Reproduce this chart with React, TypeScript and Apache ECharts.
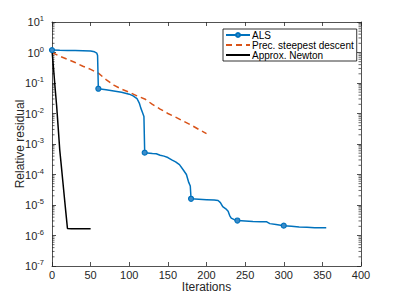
import React, { useEffect, useRef } from "react";
import * as echarts from "echarts";

const alsX = [0, 10, 20, 30, 40, 50, 55, 58, 59, 60, 70, 80, 90, 100, 105, 110, 113, 115, 117, 119, 120, 130, 135, 140, 145, 150, 155, 160, 165, 170, 174, 177, 179, 180, 190, 200, 210, 215, 218, 221, 225, 228, 230, 232, 236, 240, 250, 260, 270, 278, 282, 290, 300, 310, 320, 330, 340, 355];
const alsY = [1.2, 1.18, 1.17, 1.16, 1.15, 1.12, 1.05, 0.95, 0.8, 0.065, 0.06, 0.055, 0.05, 0.043, 0.038, 0.031, 0.022, 0.015, 0.011, 0.008, 5.2e-4, 4.9e-4, 4.8e-4, 4.3e-4, 4.0e-4, 3.6e-4, 3.0e-4, 2.6e-4, 2.1e-4, 1.4e-4, 1.0e-4, 5.5e-5, 4.2e-5, 1.6e-5, 1.55e-5, 1.5e-5, 1.45e-5, 1.4e-5, 1.2e-5, 8.9e-6, 7.5e-6, 6.2e-6, 4.5e-6, 3.7e-6, 3.3e-6, 3.1e-6, 3.0e-6, 2.9e-6, 2.85e-6, 2.8e-6, 2.45e-6, 2.3e-6, 2.1e-6, 2.0e-6, 1.9e-6, 1.85e-6, 1.8e-6, 1.8e-6];
const alsMarkers = [0, 60, 120, 180, 240, 300];

const psdX = [0, 10, 20, 30, 40, 50, 60, 70, 80, 90, 100, 110, 120, 130, 140, 150, 160, 170, 180, 190, 200];
const psdY = [1.0, 0.76, 0.6, 0.47, 0.355, 0.28, 0.21, 0.13, 0.085, 0.063, 0.05, 0.038, 0.03, 0.02, 0.014, 0.01, 0.0076, 0.0056, 0.0042, 0.003, 0.0022];

const newtonX = [0, 2, 4, 6, 8, 10, 12, 14, 16, 18, 20, 25, 30, 40, 50];
const newtonY = [1.2, 0.3, 0.07, 0.018, 3.5e-3, 6.5e-4, 2e-4, 6e-5, 1.8e-5, 5.5e-6, 1.7e-6, 1.65e-6, 1.65e-6, 1.65e-6, 1.65e-6];

const seriesNames = ["ALS", "Prec. steepest descent", "Approx. Newton"];
const yMin = 1e-7;
const yMax = 10;
const xMin = 0;
const xMax = 400;
const xInterval = 50;

const FONT = "'Liberation Sans', Arial, Helvetica, sans-serif";
const AX = "#262626";

function minorTickValues(): number[] {
  const out: number[] = [];
  for (let k = -7; k <= 0; k++) {
    for (let m = 2; m <= 9; m++) out.push(m * Math.pow(10, k));
  }
  return out;
}

export default function App() {
  const ref = useRef<HTMLDivElement>(null);
  useEffect(() => {
    if (!ref.current) return;
    const chart = echarts.init(ref.current, undefined, { renderer: "svg" });
    const alsData = alsX.map((x, i) => ({
      value: [x, alsY[i]],
      symbol: alsMarkers.includes(x) ? "circle" : "none",
    }));
    const yLabel = (v: number) => {
      const e = Math.round(Math.log10(v));
      return "10{s|" + e + "}";
    };
    const tickStyle = { show: true, inside: true, length: 4, lineStyle: { color: AX, width: 0.8 } };
    const axisLine = { show: true, onZero: false, lineStyle: { color: AX, width: 0.8 } };
    chart.setOption({
      animation: false,
      textStyle: { fontFamily: FONT },
      grid: { left: 52, right: 38, top: 22, bottom: 33, containLabel: false, outerBoundsMode: "none" },
      legend: {
        data: [
          { name: seriesNames[0] },
          { name: seriesNames[1], itemStyle: { opacity: 0 } },
          { name: seriesNames[2], itemStyle: { opacity: 0 } },
        ],
        orient: "vertical",
        left: 223,
        top: 29,
        itemGap: 0,
        itemWidth: 24,
        itemHeight: 5,
        padding: [1, 3, 1, 2],
        backgroundColor: "#fff",
        borderColor: "#000",
        borderWidth: 0.8,
        textStyle: { fontSize: 10, lineHeight: 10, color: "#000", fontFamily: FONT, padding: [0, 0, 0, -3] },
      },
      xAxis: [
        {
          type: "value",
          min: xMin,
          max: xMax,
          interval: xInterval,
          position: "bottom",
          name: "Iterations",
          nameLocation: "middle",
          nameGap: 15,
          nameMoveOverlap: false,
          nameTextStyle: { fontSize: 12, lineHeight: 12, color: AX, fontFamily: FONT },
          axisLine,
          axisTick: tickStyle,
          axisLabel: { fontSize: 11, lineHeight: 10, color: AX, margin: 4, fontFamily: FONT },
          splitLine: { show: false },
        },
        {
          type: "value",
          min: xMin,
          max: xMax,
          interval: xInterval,
          position: "top",
          axisLine,
          axisTick: tickStyle,
          axisLabel: { show: false },
          splitLine: { show: false },
        },
      ],
      yAxis: [
        {
          type: "log",
          logBase: 10,
          min: yMin,
          max: yMax,
          position: "left",
          name: "Relative residual",
          nameLocation: "middle",
          nameGap: 26,
          nameMoveOverlap: false,
          nameTextStyle: { fontSize: 12, color: AX, fontFamily: FONT },
          axisLine,
          axisTick: tickStyle,
          axisLabel: {
            formatter: yLabel,
            fontSize: 11,
            color: AX,
            margin: 8,
            fontFamily: FONT,
            rich: { s: { fontSize: 7.5, verticalAlign: "top", padding: [0, 0, 7, 0], color: AX, fontFamily: FONT } },
          },
          splitLine: { show: false },
        },
        {
          type: "log",
          logBase: 10,
          min: yMin,
          max: yMax,
          position: "right",
          axisLine,
          axisTick: tickStyle,
          axisLabel: { show: false },
          splitLine: { show: false },
        },
      ],
      series: [
        {
          name: "minor",
          type: "custom",
          silent: true,
          data: minorTickValues().map((v) => [0, v]),
          renderItem: (params: any, api: any) => {
            const p = api.coord([0, api.value(1)]);
            const cs = params.coordSys;
            const y = p[1];
            return {
              type: "group",
              children: [
                { type: "line", shape: { x1: cs.x, y1: y, x2: cs.x + 2.5, y2: y }, style: { stroke: AX, lineWidth: 0.7 } },
                { type: "line", shape: { x1: cs.x + cs.width - 2.5, y1: y, x2: cs.x + cs.width, y2: y }, style: { stroke: AX, lineWidth: 0.7 } },
              ],
            };
          },
          z: 1,
        },
        {
          name: seriesNames[1],
          type: "line",
          data: psdX.map((x, i) => [x, psdY[i]]),
          symbol: "none",
          lineStyle: { color: "#D95319", width: 1.5, type: [6, 4] },
          itemStyle: { color: "#D95319" },
          z: 3,
        },
        {
          name: seriesNames[2],
          type: "line",
          data: newtonX.map((x, i) => [x, newtonY[i]]),
          symbol: "none",
          lineStyle: { color: "#000", width: 1.5 },
          itemStyle: { color: "#000" },
          z: 3,
        },
        {
          name: seriesNames[0],
          type: "line",
          data: alsData,
          symbol: "circle",
          symbolSize: 5,
          showSymbol: true,
          lineStyle: { color: "#0072BD", width: 1.5 },
          itemStyle: { color: "#3d8cc9", borderColor: "#0072BD", borderWidth: 1.2 },
          z: 4,
        },
      ],
    });
    return () => chart.dispose();
  }, []);
  return <div ref={ref} style={{ position: "fixed", left: 0, top: 0, width: 399, height: 299, background: "#fff" }} />;
}
